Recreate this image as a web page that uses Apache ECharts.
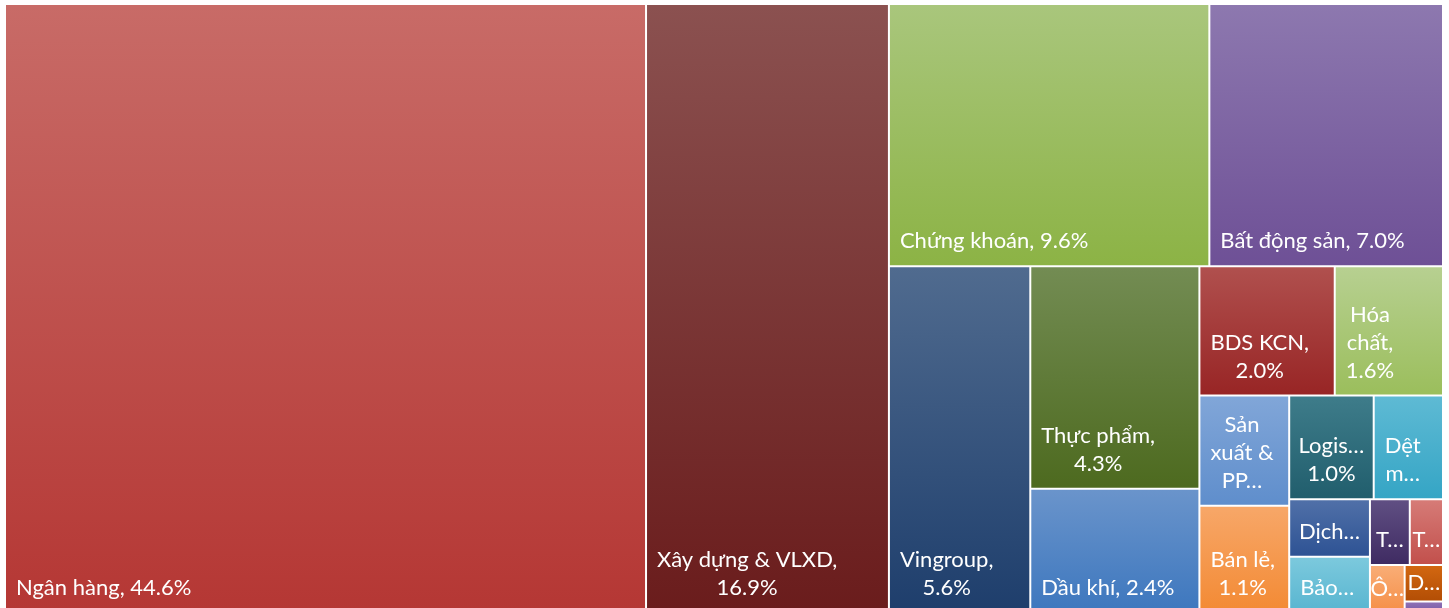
<!DOCTYPE html>
<html lang="vi">
<head>
<meta charset="utf-8">
<title>Tỷ trọng theo ngành</title>
<script src="https://cdn.jsdelivr.net/npm/echarts@6/dist/echarts.min.js"></script>
<style>
  html, body { margin: 0; padding: 0; background: #ffffff; }
  #chart { width: 1449px; height: 608px; }
</style>
</head>
<body>
<div id="chart"></div>
<script>
// Sector names, largest share first
const sectors = ['Ngân hàng', 'Xây dựng & VLXD', 'Chứng khoán', 'Bất động sản', 'Vingroup',
  'Thực phẩm', 'Dầu khí', 'BDS KCN', 'Hóa chất', 'Sản xuất & PP…', 'Bán lẻ', 'Logis…',
  'Dệt m…', 'Dịch…', 'Bảo…', 'T…', 'T…', 'Ô…', 'D…', '…'];

// Share of each sector (%)
const shares = [44.6, 16.9, 9.6, 7.0, 5.6, 4.3, 2.4, 2.0, 1.6, 1.13, 1.1, 1.0,
  0.82, 0.53, 0.52, 0.30, 0.25, 0.19, 0.16, 0.05];

// Tile label as wrapped inside each tile; {v} is replaced by the share
const tileLabels = ['Ngân hàng, {v}', 'Xây dựng & VLXD,\n{v}', 'Chứng khoán, {v}', 'Bất động sản, {v}',
  'Vingroup,\n{v}', 'Thực phẩm,\n{v}', 'Dầu khí, {v}', 'BDS KCN,\n{v}', 'Hóa\nchất,\n{v}',
  'Sản\nxuất &\nPP…', 'Bán lẻ,\n{v}', 'Logis…\n{v}', 'Dệt\nm…', 'Dịch…', 'Bảo…',
  'T…', 'T…', 'Ô…', 'D…', ''];

// Gradient fill of each tile: top colour, bottom colour
const topColors = ['#C86B67', '#8B5150', '#A9C67C', '#8D78AF', '#506B8F', '#738C53', '#6A94CB',
  '#B0504E', '#B7D091', '#81A6D8', '#F7A768', '#3E7C8A', '#5EBAD4', '#5070A8', '#7CC9DD',
  '#604F83', '#D67B77', '#F9AD76', '#D26711', '#8E70B4'];
const bottomColors = ['#B53734', '#6A1C1C', '#8CB345', '#6E5096', '#1E3E6C', '#4D6A1F', '#3D77BE',
  '#982525', '#9BBE5C', '#5F8ECC', '#F38A34', '#215E6D', '#35A5C5', '#2E5394', '#58B5D0',
  '#3F2B62', '#C2504C', '#F58F48', '#B34E05', '#7A5BA6'];

// Strip structure of the treemap: how many consecutive sectors share one band
const strips = [1, 1, 2, 1, 2, 2, 2, 2, 2, 2, 1, 1, 1];

const FONT_FAMILY = 'Lato';
const FONT_SIZE = 22;
const LINE_H = 28;
const PAD_X = 10;
const PAD_Y = 10;

const leaves = sectors.map(function (name, i) {
  return {
    name: name,
    value: shares[i],
    label: { formatter: tileLabels[i].replace('{v}', shares[i].toFixed(1) + '%') },
    itemStyle: {
      color: new echarts.graphic.LinearGradient(0, 0, 0, 1, [
        { offset: 0, color: topColors[i] },
        { offset: 1, color: bottomColors[i] }
      ])
    }
  };
});

// Each band is paired with the remainder, so squarify cuts the bands one after another
function nest(k, start) {
  const n = strips[k];
  const band = leaves.slice(start, start + n);
  const head = n === 1 ? band[0] : { name: '', children: band };
  if (k === strips.length - 1) return [head];
  return [head, { name: '', children: nest(k + 1, start + n) }];
}

const measureCtx = document.createElement('canvas').getContext('2d');
measureCtx.font = FONT_SIZE + 'px ' + FONT_FAMILY;

const chart = echarts.init(document.getElementById('chart'), null, { renderer: 'canvas' });
chart.setOption({
  animation: false,
  series: [{
    type: 'treemap',
    left: 6,
    top: 5,
    width: 1436,
    height: 607,
    squareRatio: 1,
    sort: false,
    roam: false,
    nodeClick: false,
    visibleMin: 0,
    breadcrumb: { show: false },
    upperLabel: { show: false },
    itemStyle: { borderWidth: 0, gapWidth: 2, borderColor: '#ffffff' },
    emphasis: { disabled: true },
    label: {
      show: true,
      position: 'insideBottomLeft',
      distance: 0,
      padding: 0,
      color: '#ffffff',
      fontFamily: FONT_FAMILY,
      fontSize: FONT_SIZE,
      lineHeight: LINE_H,
      overflow: 'none'
    },
    // Text block sits at the bottom-left of its tile, lines centred on each other;
    // narrow tiles centre the block
    labelLayout: function (p) {
      const r = p.rect;
      const lines = (p.text || '').split('\n');
      let w = 0;
      lines.forEach(function (l) { w = Math.max(w, measureCtx.measureText(l).width); });
      const h = lines.length * LINE_H;
      const dx = Math.min(PAD_X, (r.width - w) / 2);
      const dy = Math.min(PAD_Y, (r.height - h) / 2);
      return {
        x: r.x + dx + w / 2,
        y: r.y + r.height - dy,
        align: 'center',
        verticalAlign: 'bottom'
      };
    },
    data: nest(0, 0)
  }]
});
</script>
</body>
</html>
